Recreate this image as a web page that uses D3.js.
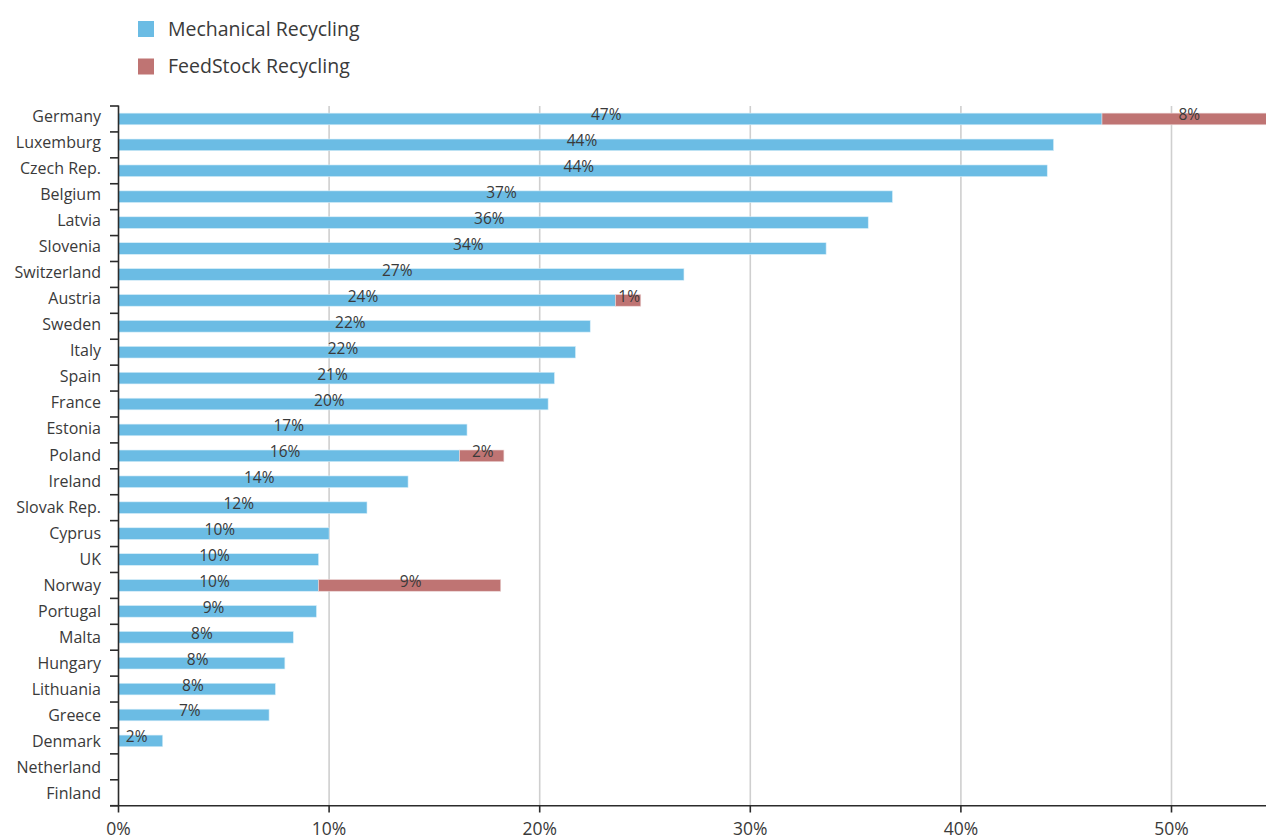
<!DOCTYPE html>
<html>
<head>
<meta charset="utf-8">
<script src="https://cdn.jsdelivr.net/npm/d3@7"></script>
<style>
  html, body { margin: 0; padding: 0; background: #fff; overflow: hidden; }
  svg { display: block; font-family: "Open Sans", "Noto Sans", sans-serif; }
</style>
</head>
<body>
<svg id="chart" width="1266" height="839"></svg>
<script>
const categories = ["Germany","Luxemburg","Czech Rep.","Belgium","Latvia","Slovenia","Switzerland","Austria","Sweden","Italy","Spain","France","Estonia","Poland","Ireland","Slovak Rep.","Cyprus","UK","Norway","Portugal","Malta","Hungary","Lithuania","Greece","Denmark","Netherland","Finland"];
const mechanical = [46.7,44.4,44.1,36.75,35.6,33.6,26.85,23.6,22.4,21.7,20.7,20.4,16.55,16.2,13.75,11.8,10.0,9.5,9.5,9.4,8.3,7.9,7.45,7.15,2.1,0,0];
const feedstock = [8.2,0,0,0,0,0,0,1.2,0,0,0,0,0,2.1,0,0,0,0,8.65,0,0,0,0,0,0,0,0];
const mechanicalLabels = ["47%","44%","44%","37%","36%","34%","27%","24%","22%","22%","21%","20%","17%","16%","14%","12%","10%","10%","10%","9%","8%","8%","8%","7%","2%","",""];
const feedstockLabels = ["8%","","","","","","","1%","","","","","","2%","","","","","9%","","","","","","","",""];
const xTicks = [0,10,20,30,40,50];
const xTickLabels = ["0%","10%","20%","30%","40%","50%"];
const seriesNames = ["Mechanical Recycling","FeedStock Recycling"];
const seriesColors = ["#6bbce4","#bf7473"];

const svg = d3.select("#chart");
const textColor = "#3a3a3a";

const x = d3.scaleLinear().domain([0, 10]).range([118.5, 329.1]);
const y = d3.scaleBand().domain(categories).range([106, 805.7]).paddingInner(0.55).paddingOuter(0.275);
const yb = d3.scaleBand().domain(categories).range([106, 805.7]);
const yl = d3.scalePoint().domain(categories).range([122, 799]);

// gridlines
svg.append("g").selectAll("line").data(xTicks.filter(d => d > 0)).join("line")
  .attr("x1", d => x(d)).attr("x2", d => x(d))
  .attr("y1", 106).attr("y2", 805.7)
  .attr("stroke", "#cfcfcf").attr("stroke-width", 1.6);

// bars
const rows = categories.map((c, i) => ({c, m: mechanical[i], f: feedstock[i], ml: mechanicalLabels[i], fl: feedstockLabels[i]}));
const g = svg.append("g");
g.selectAll("rect.m").data(rows.filter(d => d.m > 0)).join("rect")
  .attr("x", x(0)).attr("y", d => y(d.c))
  .attr("width", d => x(d.m) - x(0)).attr("height", y.bandwidth())
  .attr("fill", seriesColors[0]).attr("stroke", "#d8eef9").attr("stroke-width", 0.6);
g.selectAll("rect.f").data(rows.filter(d => d.f > 0)).join("rect")
  .attr("x", d => x(d.m)).attr("y", d => y(d.c))
  .attr("width", d => x(d.m + d.f) - x(d.m)).attr("height", y.bandwidth())
  .attr("fill", seriesColors[1]).attr("stroke", "#ecd6d6").attr("stroke-width", 0.6);

// value labels
g.selectAll("text.m").data(rows.filter(d => d.ml)).join("text")
  .attr("x", d => (x(0) + x(d.m)) / 2 - 4)
  .attr("y", d => y(d.c) + y.bandwidth() / 2 + 1.5)
  .attr("text-anchor", "middle").attr("font-size", 15.5).attr("fill", textColor)
  .text(d => d.ml);
g.selectAll("text.f").data(rows.filter(d => d.fl)).join("text")
  .attr("x", d => (x(d.m) + x(d.m + d.f)) / 2 + 1)
  .attr("y", d => y(d.c) + y.bandwidth() / 2 + 1.5)
  .attr("text-anchor", "middle").attr("font-size", 15.5).attr("fill", textColor)
  .text(d => d.fl);

// y axis
const axisColor = "#2b2b2b";
svg.append("line").attr("x1", 118.5).attr("x2", 118.5).attr("y1", 105.5).attr("y2", 805.7)
  .attr("stroke", axisColor).attr("stroke-width", 1.6);
const boundaries = categories.map(c => yb(c)).concat([yb.range()[1]]);
svg.append("g").selectAll("line").data(boundaries).join("line")
  .attr("x1", 110).attr("x2", 118.5).attr("y1", d => d).attr("y2", d => d)
  .attr("stroke", axisColor).attr("stroke-width", 1.6);
svg.append("g").selectAll("text").data(categories).join("text")
  .attr("x", 101).attr("y", d => yl(d))
  .attr("text-anchor", "end").attr("font-size", 16).attr("fill", textColor)
  .text(d => d);

// x axis
svg.append("line").attr("x1", 110).attr("x2", 1266).attr("y1", 805.7).attr("y2", 805.7)
  .attr("stroke", axisColor).attr("stroke-width", 1.6);
svg.append("g").selectAll("line").data(xTicks).join("line")
  .attr("x1", d => x(d)).attr("x2", d => x(d)).attr("y1", 805.7).attr("y2", 812.5)
  .attr("stroke", axisColor).attr("stroke-width", 1.6);
svg.append("g").selectAll("text").data(xTicks).join("text")
  .attr("x", d => x(d)).attr("y", 835)
  .attr("text-anchor", "middle").attr("font-size", 17.5).attr("fill", textColor)
  .text((d, i) => xTickLabels[i]);

// legend
const lg = svg.append("g").selectAll("g").data(seriesNames).join("g")
  .attr("transform", (d, i) => `translate(138, ${21 + i * 37.5})`);
lg.append("rect").attr("width", 16).attr("height", 16).attr("fill", (d, i) => seriesColors[i]);
lg.append("text").attr("x", 30).attr("y", 14.5).attr("font-size", 19.5).attr("fill", textColor).text(d => d);
</script>
</body>
</html>
